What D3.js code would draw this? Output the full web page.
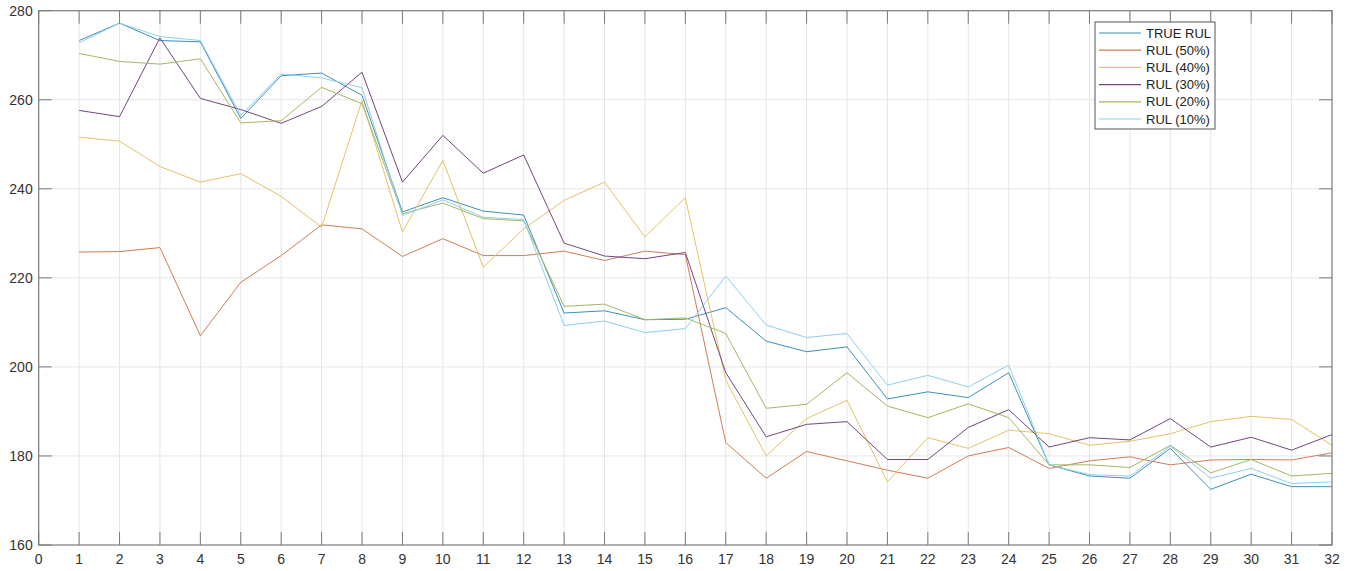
<!DOCTYPE html>
<html>
<head>
    <title>RUL chart</title>
    <script src="https://cdnjs.cloudflare.com/ajax/libs/d3/7.8.5/d3.min.js"></script>
    <style>
        html, body {
            margin: 0;
            padding: 0;
            background: #ffffff;
            font-family: 'Liberation Sans', Arial, sans-serif;
        }
        #chart svg { display: block; }
        .tick-label { font-size: 14px; fill: #333333; }
        .legend-text { font-size: 13px; fill: #222222; }
    </style>
</head>
<body>
    <div id="chart"></div>
    <script>
        // x positions (cycle index)
        const steps = d3.range(1, 33);

        const trueRul = [273.3, 277.2, 273.3, 273.0, 255.8, 265.4, 266.0, 261.0, 234.8, 238.0, 235.0, 234.1,
            212.1, 212.6, 210.6, 210.7, 213.3, 205.8, 203.4, 204.5, 192.8, 194.4, 193.1, 198.7,
            178.0, 175.5, 175.0, 181.7, 172.5, 175.9, 173.1, 173.1];
        const rul50 = [225.8, 225.9, 226.8, 207.0, 219.0, 225.0, 231.9, 231.0, 224.8, 228.8, 225.0, 225.0,
            226.0, 223.9, 226.0, 225.2, 183.0, 175.0, 181.0, 178.9, 176.8, 175.0, 180.0, 181.9,
            177.2, 178.9, 179.8, 178.0, 179.1, 179.2, 179.1, 180.7];
        const rul40 = [251.6, 250.7, 245.0, 241.5, 243.4, 238.3, 231.4, 259.8, 230.3, 246.4, 222.4, 231.0,
            237.4, 241.5, 229.2, 238.0, 197.0, 180.0, 188.4, 192.5, 174.2, 184.1, 181.7, 185.8,
            185.0, 182.4, 183.3, 185.0, 187.7, 188.9, 188.2, 182.4];
        const rul30 = [257.6, 256.2, 273.9, 260.3, 257.8, 254.7, 258.5, 266.2, 241.5, 252.0, 243.5, 247.6,
            227.8, 224.9, 224.3, 225.7, 198.7, 184.3, 187.1, 187.7, 179.2, 179.2, 186.4, 190.4,
            182.0, 184.1, 183.6, 188.4, 182.0, 184.2, 181.3, 184.8];
        const rul20 = [270.4, 268.6, 268.0, 269.2, 254.8, 255.3, 262.8, 259.1, 234.4, 236.8, 233.3, 232.8,
            213.6, 214.1, 210.6, 211.0, 207.5, 190.7, 191.6, 198.7, 191.2, 188.6, 191.7, 188.6,
            178.0, 178.0, 177.4, 182.4, 176.2, 179.2, 175.5, 176.1];
        const rul10 = [272.8, 277.2, 274.2, 273.3, 256.5, 265.8, 264.9, 262.7, 234.0, 237.5, 233.6, 233.1,
            209.3, 210.3, 207.7, 208.6, 220.4, 209.4, 206.6, 207.5, 195.9, 198.1, 195.5, 200.4,
            178.0, 175.8, 175.5, 182.2, 175.0, 177.2, 173.8, 174.2];

        const seriesNames = ['TRUE RUL', 'RUL (50%)', 'RUL (40%)', 'RUL (30%)', 'RUL (20%)', 'RUL (10%)'];
        const seriesValues = [trueRul, rul50, rul40, rul30, rul20, rul10];
        const seriesColors = ['#3f8fba', '#cf7d58', '#e4c266', '#74457f', '#a3b862', '#8ed0ea'];

        const xTicks = d3.range(0, 33);
        const yTicks = [160, 180, 200, 220, 240, 260, 280];

        const width = 1359, height = 571;
        const margin = { left: 38.7, right: 27, top: 10.7, bottom: 26 };

        const svg = d3.select('#chart').append('svg')
            .attr('width', width)
            .attr('height', height);

        const x = d3.scaleLinear().domain([0, 32]).range([margin.left, width - margin.right]);
        const y = d3.scaleLinear().domain([160, 280]).range([height - margin.bottom, margin.top]);

        const x0 = x.range()[0], x1 = x.range()[1];
        const y0 = y.range()[0], y1 = y.range()[1];
        const tickLen = 13;

        // grid
        svg.append('g').selectAll('line.vgrid')
            .data(xTicks.slice(1, -1))
            .enter().append('line')
            .attr('x1', d => x(d)).attr('x2', d => x(d))
            .attr('y1', y1).attr('y2', y0)
            .attr('stroke', '#e6e6e6').attr('stroke-width', 1);
        svg.append('g').selectAll('line.hgrid')
            .data(yTicks.slice(1, -1))
            .enter().append('line')
            .attr('x1', x0).attr('x2', x1)
            .attr('y1', d => y(d)).attr('y2', d => y(d))
            .attr('stroke', '#e6e6e6').attr('stroke-width', 1);

        // lines
        const line = d3.line()
            .x((d, i) => x(steps[i]))
            .y(d => y(d));

        svg.append('g').selectAll('path')
            .data(seriesValues)
            .enter().append('path')
            .attr('d', d => line(d))
            .attr('fill', 'none')
            .attr('stroke', (d, i) => seriesColors[i])
            .attr('stroke-width', 1)
            .attr('stroke-linejoin', 'round');

        // box with inward ticks (matlab style)
        const axisColor = '#7a7a7a';
        const box = svg.append('g');
        box.append('rect')
            .attr('x', x0).attr('y', y1)
            .attr('width', x1 - x0).attr('height', y0 - y1)
            .attr('fill', 'none').attr('stroke', axisColor).attr('stroke-width', 1.2);

        box.selectAll('line.xt')
            .data(xTicks)
            .enter().append('line')
            .attr('x1', d => x(d)).attr('x2', d => x(d))
            .attr('y1', y0).attr('y2', y0 - tickLen)
            .attr('stroke', axisColor);
        box.selectAll('line.xtt')
            .data(xTicks)
            .enter().append('line')
            .attr('x1', d => x(d)).attr('x2', d => x(d))
            .attr('y1', y1).attr('y2', y1 + tickLen)
            .attr('stroke', axisColor);
        box.selectAll('line.yt')
            .data(yTicks)
            .enter().append('line')
            .attr('x1', x0).attr('x2', x0 + tickLen)
            .attr('y1', d => y(d)).attr('y2', d => y(d))
            .attr('stroke', axisColor);
        box.selectAll('line.ytr')
            .data(yTicks)
            .enter().append('line')
            .attr('x1', x1).attr('x2', x1 - tickLen)
            .attr('y1', d => y(d)).attr('y2', d => y(d))
            .attr('stroke', axisColor);

        // tick labels
        svg.append('g').selectAll('text')
            .data(xTicks)
            .enter().append('text')
            .attr('class', 'tick-label')
            .attr('x', d => x(d))
            .attr('y', y0 + 19)
            .attr('text-anchor', 'middle')
            .text(d => d);
        svg.append('g').selectAll('text')
            .data(yTicks)
            .enter().append('text')
            .attr('class', 'tick-label')
            .attr('x', x0 - 6)
            .attr('y', d => y(d) + 5)
            .attr('text-anchor', 'end')
            .text(d => d);

        // legend
        const legend = svg.append('g').attr('transform', 'translate(1095,22)');
        legend.append('rect')
            .attr('width', 120).attr('height', 107)
            .attr('fill', '#ffffff').attr('stroke', '#555555').attr('stroke-width', 1);
        const entry = legend.selectAll('g.entry')
            .data(seriesNames)
            .enter().append('g')
            .attr('transform', (d, i) => 'translate(0,' + (11 + i * 17.2) + ')');
        entry.append('line')
            .attr('x1', 4).attr('x2', 46)
            .attr('stroke', (d, i) => seriesColors[i])
            .attr('stroke-width', 1.2);
        entry.append('text')
            .attr('class', 'legend-text')
            .attr('x', 51).attr('y', 4.5)
            .text(d => d);
    </script>
</body>
</html>
